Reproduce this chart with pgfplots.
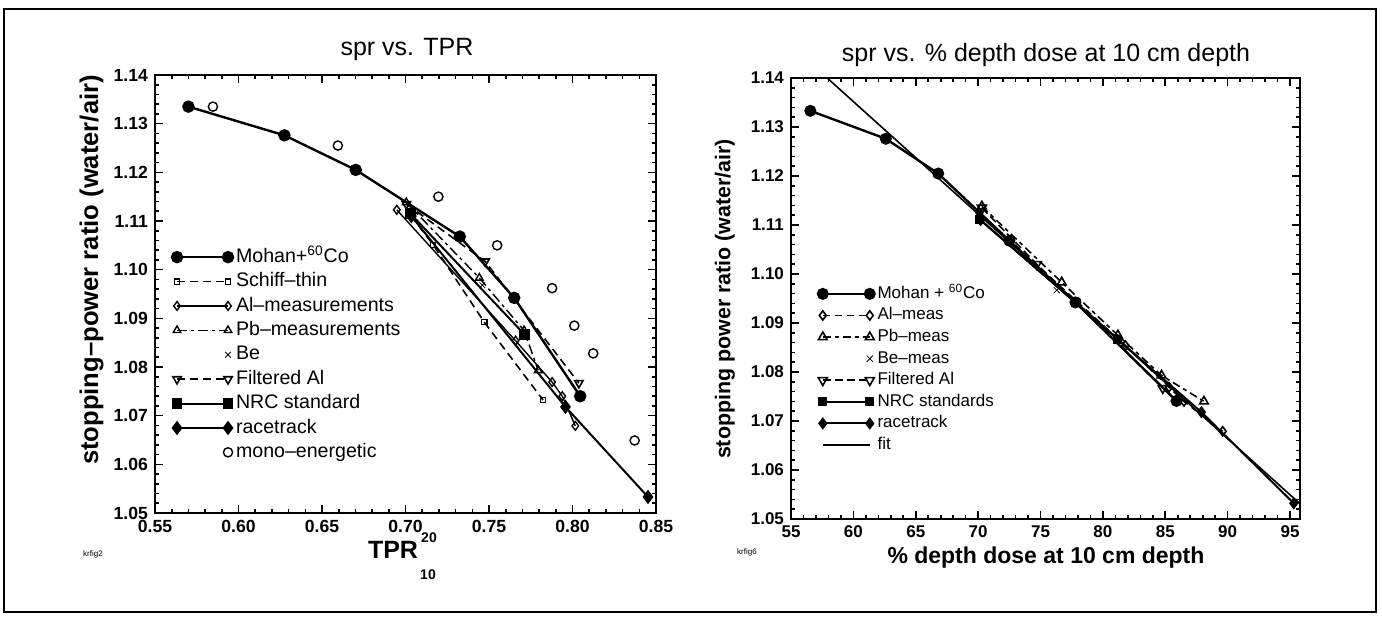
\documentclass[border=0pt]{standalone}
\usepackage{fontspec}
\setmainfont{Liberation Sans}
\usepackage{pgfplots}
\pgfplotsset{compat=1.18}
\pgfplotsset{
 myax/.style={
  scale only axis, anchor=south west,
  axis line style={line width=1.1pt},
  tick align=inside,
  major tick length=4pt, minor tick length=2pt,
  every tick/.style={line width=0.8pt, black},
  minor x tick num=4, minor y tick num=4,
  ymin=1.05, ymax=1.14,
  ytick={1.05,1.06,1.07,1.08,1.09,1.10,1.11,1.12,1.13,1.14},
  y tick label style={/pgf/number format/.cd, fixed, fixed zerofill, precision=2, /tikz/.cd},
  /pgf/number format/assume math mode=true,
  legend cell align=left,
 },
 leftleg/.style={legend image code/.code={\draw[##1] plot coordinates {(0pt,0pt) (25.5pt,0pt)};}},
 rightleg/.style={legend image code/.code={\draw[##1] plot coordinates {(0pt,0pt) (23.5pt,0pt)};}},
 leftdot/.style={legend image code/.code={\draw[##1] plot coordinates {(25.5pt,0pt)};}},
 rightdot/.style={legend image code/.code={\draw[##1] plot coordinates {(23.5pt,0pt)};}},
}
\begin{document}
\begin{tikzpicture}
\path[use as bounding box] (0pt,0pt) rectangle (691pt,310.5pt);
\draw[line width=0.8pt] (2pt,4.5pt) rectangle (688pt,306pt);
% ---------------- left axis ----------------
\begin{axis}[myax, leftleg, at={(77.5pt,54pt)}, width=250.5pt, height=219pt,
  xmin=0.55, xmax=0.85,
  xtick={0.55,0.60,0.65,0.70,0.75,0.80,0.85},
  x tick label style={/pgf/number format/.cd, fixed, fixed zerofill, precision=2, /tikz/.cd},
  ticklabel style={font=\bfseries\fontsize{8.8}{10}\selectfont},
  legend style={draw=none, fill=none, inner sep=0pt, outer sep=0pt,
    at={(axis description cs:0.034,0.612)}, anchor=north west,
    font=\fontsize{9.8}{11}\selectfont, row sep=0pt, column sep=0pt,
    nodes={text height=7.2pt, text depth=2pt, inner ysep=1.5pt, inner xsep=1.5pt}},
]
\addplot[line width=1.2pt, mark=*, mark size=2.5pt] coordinates {
 (0.570,1.1335) (0.6275,1.1276) (0.6702,1.1205) (0.7325,1.1068) (0.7651,1.0942) (0.8046,1.0740)};
\addlegendentry{Mohan+\textsuperscript{60}Co}
\addplot[line width=0.8pt, dash pattern=on 4pt off 2.5pt, mark=square, mark size=1.3pt, mark options={solid, line width=0.6pt, fill=white}] coordinates {
 (0.703,1.1112) (0.7166,1.1051) (0.7472,1.0892) (0.7824,1.0732)};
\addlegendentry{Schiff–thin}
\addplot[line width=0.7pt, mark=diamond, mark size=2.2pt, mark options={solid, fill=white}] coordinates {
 (0.6948,1.1123) (0.7659,1.0854) (0.7878,1.0769) (0.7939,1.0740) (0.8017,1.0679)};
\addlegendentry{Al–measurements}
\addplot[line width=0.7pt, dash pattern=on 5pt off 2pt on 1.5pt off 2pt, mark=triangle, mark size=2.2pt, mark options={solid, fill=white}] coordinates {
 (0.7005,1.1138) (0.7442,1.0983) (0.7710,1.0875) (0.7795,1.0793)};
\addlegendentry{Pb–measurements}
\addplot[only marks, mark=x, mark size=2pt, leftdot] coordinates {
 (0.746,1.0968)};
\addlegendentry{Be}
\addplot[line width=0.8pt, dash pattern=on 4pt off 2.5pt, mark=triangle, mark size=2.4pt, mark options={solid, rotate=180, fill=white}] coordinates {
 (0.7005,1.1135) (0.7477,1.1017) (0.8038,1.0767)};
\addlegendentry{Filtered Al}
\addplot[line width=1pt, mark=square*, mark size=2.1pt, mark options={solid}] coordinates {
 (0.7030,1.1115) (0.7712,1.0867)};
\addlegendentry{NRC standard}
\addplot[line width=1pt, mark=diamond*, mark size=2.8pt, mark options={solid}] coordinates {
 (0.7035,1.1110) (0.7958,1.0718) (0.8452,1.0533)};
\addlegendentry{racetrack}
\addplot[only marks, mark=o, mark size=2.3pt, mark options={line width=0.7pt, fill=white}, leftdot] coordinates {
 (0.5847,1.1335) (0.6595,1.1255) (0.7197,1.1150) (0.7549,1.1050) (0.7878,1.0962) (0.8011,1.0885) (0.8124,1.0828) (0.8372,1.0649)};
\addlegendentry{mono–energetic}
\end{axis}
% ---------------- right axis ----------------
\begin{axis}[myax, rightleg, at={(395.5pt,51pt)}, width=254.5pt, height=220.5pt,
  xmin=55, xmax=95.8,
  xtick={55,60,65,70,75,80,85,90,95},
  ticklabel style={font=\bfseries\fontsize{8.5}{10}\selectfont},
  legend style={draw=none, fill=none, inner sep=0pt, outer sep=0pt,
    at={(axis description cs:0.053,0.535)}, anchor=north west,
    font=\fontsize{8.5}{10}\selectfont, row sep=0pt, column sep=0pt,
    nodes={text height=6.3pt, text depth=1.8pt, inner ysep=1.35pt, inner xsep=1.5pt}},
]
\addplot[line width=1.2pt, mark=*, mark size=2.4pt] coordinates {
 (56.55,1.1333) (62.6,1.1276) (66.8,1.1205) (72.5,1.1068) (77.8,1.0942) (85.9,1.0741)};
\addlegendentry{Mohan + \textsuperscript{60}Co}
\addplot[line width=0.8pt, dash pattern=on 3.5pt off 2.5pt, mark=diamond, mark size=2.3pt, mark options={solid, fill=white}] coordinates {
 (70.1,1.1125) (81.8,1.0854) (85.3,1.0769) (86.5,1.0740) (89.6,1.0679)};
\addlegendentry{Al–meas}
\addplot[line width=0.8pt, dash pattern=on 4pt off 2pt on 2pt off 2pt, mark=triangle, mark size=2.5pt, mark options={solid, fill=white}] coordinates {
 (70.3,1.1138) (76.7,1.0983) (81.2,1.0875) (84.7,1.0793) (88.1,1.0740)};
\addlegendentry{Pb–meas}
\addplot[only marks, mark=x, mark size=2.2pt, rightdot] coordinates {
 (76.3,1.0967)};
\addlegendentry{Be–meas}
\addplot[line width=0.8pt, dash pattern=on 4pt off 2pt, mark=triangle, mark size=2.6pt, mark options={solid, rotate=180, fill=white}] coordinates {
 (70.3,1.1135) (74.7,1.1020) (84.8,1.0767)};
\addlegendentry{Filtered Al}
\addplot[line width=1pt, mark=square*, mark size=1.7pt, mark options={solid}] coordinates {
 (70.1,1.1112) (81.2,1.0867)};
\addlegendentry{NRC standards}
\addplot[line width=1pt, mark=diamond*, mark size=2.3pt, mark options={solid}] coordinates {
 (70.2,1.1110) (87.9,1.0718) (95.3,1.0532)};
\addlegendentry{racetrack}
\addplot[line width=0.8pt] coordinates {(57.9,1.14) (95.8,1.0531)};
\addlegendentry{fit}
\end{axis}
% ---------------- texts ----------------
\node[font=\fontsize{12.5}{14}\selectfont] at (203.5pt,285.75pt) {spr vs. TPR};
\node[font=\fontsize{12.5}{14}\selectfont] at (523pt,283pt) {spr vs. \% depth dose at 10 cm depth};
\node[font=\bfseries\fontsize{12.8}{14}\selectfont, rotate=90] at (45.75pt,175.5pt) {stopping–power ratio (water/air)};
\node[font=\bfseries\fontsize{10.7}{12}\selectfont, rotate=90] at (362.5pt,161pt) {stopping power ratio (water/air)};
\node[font=\bfseries\fontsize{12.5}{14}\selectfont] at (196.5pt,35.5pt) {TPR};
\node[font=\bfseries\fontsize{7}{8}\selectfont, inner sep=0pt] at (214.5pt,41.5pt) {20};
\node[font=\bfseries\fontsize{7}{8}\selectfont, inner sep=0pt] at (214pt,23pt) {10};
\node[font=\bfseries\fontsize{11.5}{13}\selectfont] at (523pt,31.5pt) {\% depth dose at 10 cm depth};
\node[font=\fontsize{4}{5}\selectfont] at (46.5pt,33.5pt) {krfig2};
\node[font=\fontsize{4}{5}\selectfont] at (373.5pt,34.5pt) {krfig6};
\end{tikzpicture}
\end{document}
